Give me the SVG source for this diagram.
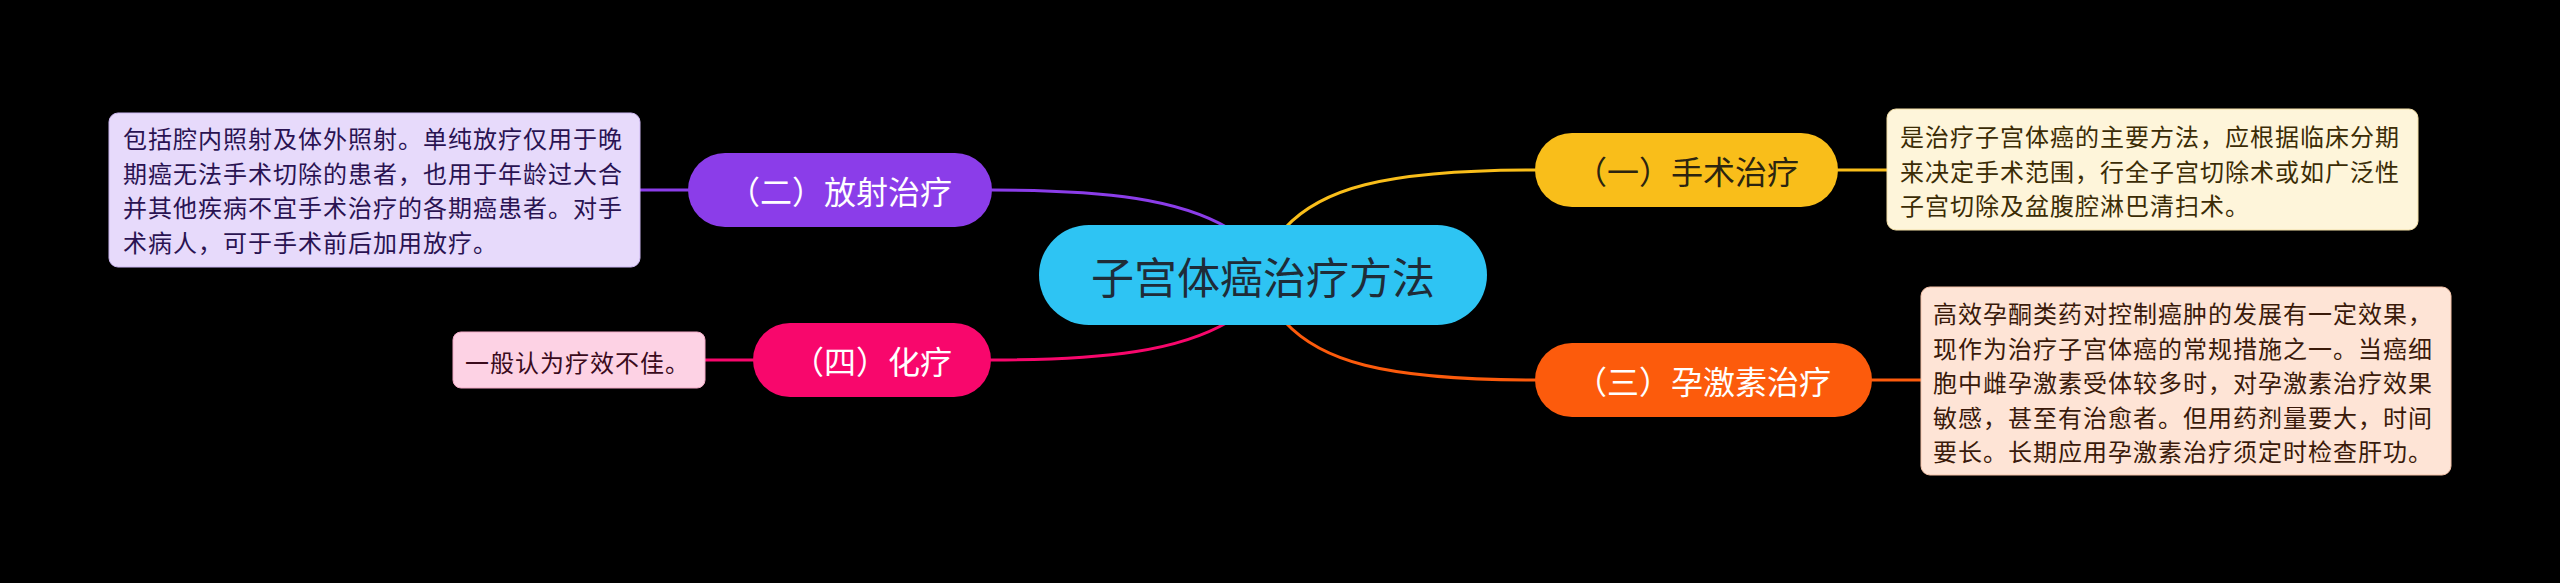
<svg xmlns="http://www.w3.org/2000/svg" width="2560" height="583" viewBox="0 0 2560 583">
<style>
text{font-family:"Noto Sans CJK SC","Noto Sans",sans-serif;dominant-baseline:central}
.lbl{font-size:32px;text-anchor:middle}
.body{font-size:24px;letter-spacing:1px}
.conn{fill:none;stroke-width:3;stroke-linecap:round}
</style>
<rect x="0" y="0" width="2560" height="583" fill="#000"/>
<g id="connectors">
<path class="conn" stroke="#8B3DE9" d="M992,190 C1110,190 1180,200 1228,228"/>
<path class="conn" stroke="#F8076C" d="M991,360 C1110,360 1180,350 1228,322"/>
<path class="conn" stroke="#F9BE1A" d="M1285,228 C1320,190 1380,170 1535,170"/>
<path class="conn" stroke="#FC5B0C" d="M1285,322 C1320,360 1380,380 1535,380"/>
<path class="conn" stroke="#8B3DE9" d="M640,190 L688,190"/>
<path class="conn" stroke="#F8076C" d="M705,360 L753,360"/>
<path class="conn" stroke="#F9BE1A" d="M1838,170 L1887,170"/>
<path class="conn" stroke="#FC5B0C" d="M1872,380 L1921,380"/>
</g>
<g id="root">
<rect x="1039" y="225" width="448" height="100" rx="50" fill="#2EC4F3"/>
<text x="1263" y="275" font-size="43" text-anchor="middle" fill="#1F2C38">子宫体癌治疗方法</text>
</g>
<g id="n2">
<rect x="688" y="153" width="304" height="74" rx="37" fill="#8B3DE9"/>
<text class="lbl" x="840" y="190" fill="#fff">（二）放射治疗</text>
</g>
<g id="n2-note">
<rect x="109" y="113" width="531" height="154" rx="9" fill="#E7DAFB" stroke="#CDB8F2" stroke-width="1"/>
<text class="body" fill="#2A1352"><tspan x="123" y="137">包括腔内照射及体外照射。单纯放疗仅用于晚</tspan><tspan x="123" y="171.5">期癌无法手术切除的患者，也用于年龄过大合</tspan><tspan x="123" y="206">并其他疾病不宜手术治疗的各期癌患者。对手</tspan><tspan x="123" y="240.5">术病人，可于手术前后加用放疗。</tspan></text>
</g>
<g id="n4">
<rect x="753" y="323" width="238" height="74" rx="37" fill="#F8076C"/>
<text class="lbl" x="872" y="360" fill="#fff">（四）化疗</text>
</g>
<g id="n4-note">
<rect x="453" y="332" width="252" height="56" rx="8" fill="#FDD2E4" stroke="#F2A9C6" stroke-width="1"/>
<text class="body" x="465" y="361" fill="#3A0B1C">一般认为疗效不佳。</text>
</g>
<g id="n1">
<rect x="1535" y="133" width="303" height="74" rx="37" fill="#F9BE1A"/>
<text class="lbl" x="1687" y="170" fill="#2B2410">（一）手术治疗</text>
</g>
<g id="n1-note">
<rect x="1887" y="109" width="531" height="121" rx="9" fill="#FEF5DA" stroke="#F3DFA6" stroke-width="1"/>
<text class="body" fill="#3B2C05"><tspan x="1900" y="135">是治疗子宫体癌的主要方法，应根据临床分期</tspan><tspan x="1900" y="169.5">来决定手术范围，行全子宫切除术或如广泛性</tspan><tspan x="1900" y="204">子宫切除及盆腹腔淋巴清扫术。</tspan></text>
</g>
<g id="n3">
<rect x="1535" y="343" width="337" height="74" rx="37" fill="#FC5B0C"/>
<text class="lbl" x="1703" y="380" fill="#fff">（三）孕激素治疗</text>
</g>
<g id="n3-note">
<rect x="1921" y="287" width="530" height="188" rx="9" fill="#FEE4D6" stroke="#F5C2A8" stroke-width="1"/>
<text class="body" fill="#3A1A0A"><tspan x="1933" y="312">高效孕酮类药对控制癌肿的发展有一定效果，</tspan><tspan x="1933" y="346.5">现作为治疗子宫体癌的常规措施之一。当癌细</tspan><tspan x="1933" y="381">胞中雌孕激素受体较多时，对孕激素治疗效果</tspan><tspan x="1933" y="415.5">敏感，甚至有治愈者。但用药剂量要大，时间</tspan><tspan x="1933" y="450">要长。长期应用孕激素治疗须定时检查肝功。</tspan></text>
</g>
</svg>
